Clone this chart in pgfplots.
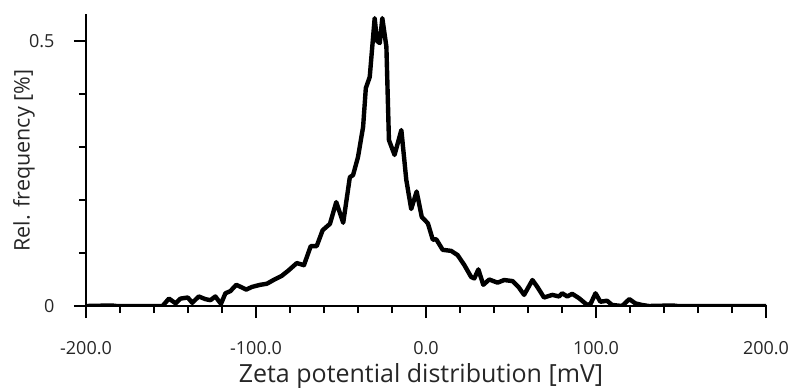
\documentclass[border=0pt]{standalone}
\usepackage{fontspec}
\setmainfont{Open Sans}
\usepackage{pgfplots}
\pgfplotsset{compat=1.18}
\begin{document}
\begin{tikzpicture}[x=1pt,y=1pt]
\useasboundingbox (0,0) rectangle (789,389);
\begin{axis}[
  at={(86pt,83pt)}, anchor=south west,
  scale only axis, width=680pt, height=291pt,
  xmin=-200, xmax=200, ymin=0, ymax=0.549,
  axis x line=bottom, axis y line=left,
  axis line style={-, line width=2.4pt, line cap=rect},
  xtick={-200,-100,0,100,200},
  xticklabels={-200.0,-100.0,0.0,100.0,200.0},
  minor xtick={-180,-160,-140,-120,-80,-60,-40,-20,20,40,60,80,120,140,160,180},
  ytick={0,0.5}, yticklabels={0,0.5},
  minor ytick={0.1,0.2,0.3,0.4},
  tick align=outside,
  major tick length=12pt, minor tick length=7pt,
  tick style={black, line width=2.2pt},
  tick label style={font=\fontsize{18}{20}\selectfont, text=black!85},
  xticklabel style={yshift=-20pt},
  yticklabel style={xshift=-16pt},
  xlabel={Zeta potential distribution [mV]},
  ylabel={Rel. frequency [\%]},
  xlabel style={font=\fontsize{25}{28}\selectfont, text=black!85,
    at={(axis description cs:0.5,0)}, anchor=base, yshift=-76pt, xshift=-5pt},
  ylabel style={font=\fontsize{21.5}{24}\selectfont, text=black!85,
    at={([xshift=-62pt]axis description cs:0,0.5)}, anchor=center},
]
\addplot[black, line width=4.4pt, line join=round] coordinates {
(-200,0) (-185,0.001) (-182,0) (-155,0)
(-151.2,0.014) (-147.3,0.005) (-144.4,0.014) (-140.1,0.016) (-137.5,0.006)
(-133.7,0.018) (-129.8,0.013) (-126.8,0.011) (-123.9,0.018) (-120.6,0.004)
(-118,0.024) (-115.1,0.028) (-111.6,0.040) (-105.7,0.031) (-102.4,0.036)
(-97.5,0.040) (-93.6,0.042) (-89.7,0.049) (-84.8,0.057) (-80.9,0.067)
(-76,0.081) (-71.8,0.077) (-67.8,0.113) (-64.3,0.113) (-60.8,0.143)
(-56.5,0.155) (-52.8,0.196) (-48.7,0.157) (-44.8,0.243) (-42.9,0.247)
(-40,0.281) (-37,0.338) (-35.4,0.411) (-33.1,0.432) (-30.2,0.543)
(-28.8,0.500) (-27.2,0.496) (-25.7,0.543) (-23.3,0.489) (-21.8,0.313)
(-18.5,0.285) (-14.5,0.332) (-11.6,0.238) (-8.7,0.183) (-5.5,0.216)
(-2.5,0.168) (1.1,0.156) (4.0,0.125) (6.0,0.126) (9.8,0.106)
(14.8,0.104) (18.6,0.096) (22.6,0.077) (26.5,0.055) (28.4,0.052)
(30.8,0.069) (33.7,0.040) (37.2,0.050) (42.1,0.044) (46.0,0.049)
(50.9,0.047) (54.4,0.036) (57.7,0.021) (62.6,0.049) (65.5,0.036)
(69.4,0.016) (74.3,0.021) (78.2,0.018) (80.1,0.024) (83.1,0.018)
(86.0,0.023) (89.9,0.015) (94.8,0.002) (96.8,0.004) (99.7,0.024)
(102.6,0.008) (106.5,0.010) (109.4,0.002) (115.3,0) (119.6,0.013)
(123.1,0.005) (127,0.002) (131,0) (145,0.001) (148,0) (200,0)
};
\end{axis}
\end{tikzpicture}
\end{document}
